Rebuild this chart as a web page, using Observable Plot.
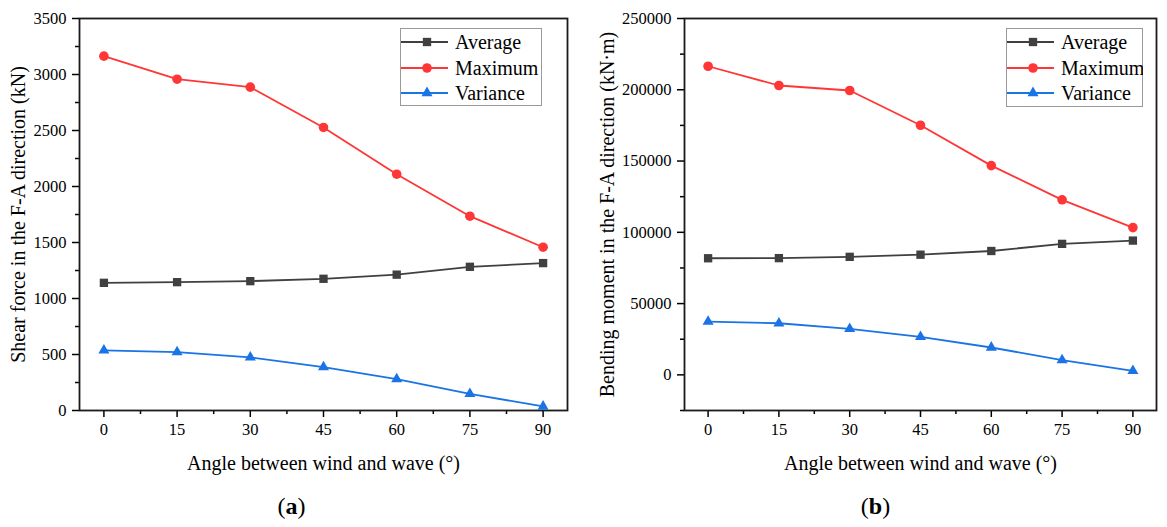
<!DOCTYPE html>
<html><head><meta charset="utf-8">
<script src="https://cdn.jsdelivr.net/npm/d3@7"></script>
<script src="https://cdn.jsdelivr.net/npm/@observablehq/plot@0.6"></script>
<style>
body{margin:0;background:#fff;font-family:"Liberation Serif","Times New Roman",serif;}
#wrap{position:relative;width:1167px;height:527px;overflow:hidden;background:#fff;}
.panel{position:absolute;top:0;overflow:visible !important;}
#wrap svg, #wrap svg text{font-family:"Liberation Serif","Times New Roman",serif !important;}
.cap{position:absolute;top:491px;width:583px;text-align:center;font-size:24px;line-height:30px;color:#000;}
.legend{position:absolute;top:28px;}
</style></head><body><div id="wrap"></div>
<script>
const angles = [0, 15, 30, 45, 60, 75, 90];
const seriesNames = ["Average", "Maximum", "Variance"];
const seriesColors = ["#404040", "#ff3636", "#1a74e6"];
const seriesSymbols = ["square", "circle", "triangle"];
const shearAverage = [1140, 1146, 1155, 1176, 1213, 1283, 1316];
const shearMaximum = [3164, 2958, 2887, 2527, 2110, 1735, 1458];
const shearVariance = [537, 522, 475, 388, 281, 149, 36];
const momentAverage = [81800, 81900, 82800, 84300, 86900, 91900, 94200];
const momentMaximum = [216500, 203000, 199500, 175100, 146800, 122800, 103300];
const momentVariance = [37400, 36200, 32300, 26700, 19200, 10300, 2800];
const xMajorTicks = [0, 15, 30, 45, 60, 75, 90];
const xMinorTicks = [7.5, 22.5, 37.5, 52.5, 67.5, 82.5];
const shearMajorTicks = [0, 500, 1000, 1500, 2000, 2500, 3000, 3500];
const shearMinorTicks = [250, 750, 1250, 1750, 2250, 2750, 3250];
const momentMajorTicks = [0, 50000, 100000, 150000, 200000, 250000];
const momentMinorTicks = [-25000, 25000, 75000, 125000, 175000, 225000];
const xTitle = "Angle between wind and wave (°)";
const shearTitle = "Shear force in the F-A direction (kN)";
const momentTitle = "Bending moment in the F-A direction (kN·m)";

const symbolR = {square: 4.7, circle: 4.8, triangle: 4.1};
const FONT = "'Liberation Serif', 'Times New Roman', serif";

function makePanel({width, marginLeft, marginRight, yDomain, yMajor, yMinor, values, yTitle, yTitleOffset}) {
  const marks = [
    Plot.axisX(xMinorTicks, {tickSize: 4, tickFormat: () => "", strokeWidth: 1.5, label: null}),
    Plot.axisX(xMajorTicks, {tickSize: 7, tickPadding: 6, tickFormat: d => String(d), strokeWidth: 1.5, label: null, fontSize: 16.5}),
    Plot.axisY(yMinor, {tickSize: 4, tickFormat: () => "", strokeWidth: 1.5, label: null}),
    Plot.axisY(yMajor, {tickSize: 7, tickPadding: 6, tickFormat: d3.format("d"), strokeWidth: 1.5, label: null, fontSize: 16.5}),
    Plot.frame({stroke: "#1a1a1a", strokeWidth: 1.8})
  ];
  seriesNames.forEach((name, i) => {
    const rows = angles.map((a, j) => ({angle: a, value: values[i][j]}));
    marks.push(Plot.line(rows, {x: "angle", y: "value", stroke: seriesColors[i], strokeWidth: 1.8}));
  });
  seriesNames.forEach((name, i) => {
    const rows = angles.map((a, j) => ({angle: a, value: values[i][j]}));
    marks.push(Plot.dot(rows, {x: "angle", y: "value", fill: seriesColors[i], stroke: "none", symbol: seriesSymbols[i], r: symbolR[seriesSymbols[i]]}));
  });
  marks.push(Plot.text([xTitle], {frameAnchor: "bottom", dy: 53, text: d => d, fontSize: 20, lineAnchor: "middle", textAnchor: "middle"}));
  marks.push(Plot.text([yTitle], {frameAnchor: "left", dx: -yTitleOffset, rotate: -90, text: d => d, fontSize: 20, lineAnchor: "middle", textAnchor: "middle"}));
  return Plot.plot({
    width, height: 480, marginTop: 18, marginBottom: 70, marginLeft, marginRight,
    style: {fontFamily: FONT, fontSize: "16px", color: "#000", background: "transparent", overflow: "visible"},
    x: {domain: [-5, 95], axis: null},
    y: {domain: yDomain, axis: null},
    marks
  });
}

function makeLegend(left, w, h) {
  const svg = d3.create("svg").attr("class", "legend").attr("width", w).attr("height", h)
    .style("left", left + "px").style("font-family", FONT);
  svg.append("rect").attr("x", 0.5).attr("y", 0.5).attr("width", w - 1).attr("height", h - 1)
    .attr("fill", "#fff").attr("stroke", "#9a9a9a").attr("stroke-width", 1);
  const rowY = [14, 40, 65];
  const d3sym = {square: d3.symbolSquare, circle: d3.symbolCircle, triangle: d3.symbolTriangle};
  seriesNames.forEach((name, i) => {
    const y = rowY[i];
    svg.append("line").attr("x1", 1).attr("x2", 48).attr("y1", y).attr("y2", y)
      .attr("stroke", seriesColors[i]).attr("stroke-width", 1.8);
    const r = symbolR[seriesSymbols[i]];
    svg.append("path").attr("d", d3.symbol(d3sym[seriesSymbols[i]], Math.PI * r * r)())
      .attr("transform", `translate(27,${y})`).attr("fill", seriesColors[i]);
    svg.append("text").attr("x", 55).attr("y", y).attr("dy", "0.35em")
      .attr("font-size", 20).attr("fill", "#000").text(name);
  });
  return svg.node();
}

const wrap = document.getElementById("wrap");

const pa = makePanel({width: 583, marginLeft: 79, marginRight: 16, yDomain: [0, 3500],
  yMajor: shearMajorTicks, yMinor: shearMinorTicks,
  values: [shearAverage, shearMaximum, shearVariance], yTitle: shearTitle, yTitleOffset: 61});
pa.classList.add("panel"); pa.style.left = "0px";
wrap.appendChild(pa);

const pb = makePanel({width: 584, marginLeft: 101, marginRight: 11, yDomain: [-25000, 250000],
  yMajor: momentMajorTicks, yMinor: momentMinorTicks,
  values: [momentAverage, momentMaximum, momentVariance], yTitle: momentTitle, yTitleOffset: 77});
pb.classList.add("panel"); pb.style.left = "583px";
wrap.appendChild(pb);

wrap.appendChild(makeLegend(400, 142, 78));
wrap.appendChild(makeLegend(1006, 137, 79));

const ca = document.createElement("div"); ca.className = "cap"; ca.style.left = "0px";
ca.innerHTML = "(<b>a</b>)"; wrap.appendChild(ca);
const cb = document.createElement("div"); cb.className = "cap"; cb.style.left = "584px";
cb.innerHTML = "(<b>b</b>)"; wrap.appendChild(cb);
</script></body></html>
